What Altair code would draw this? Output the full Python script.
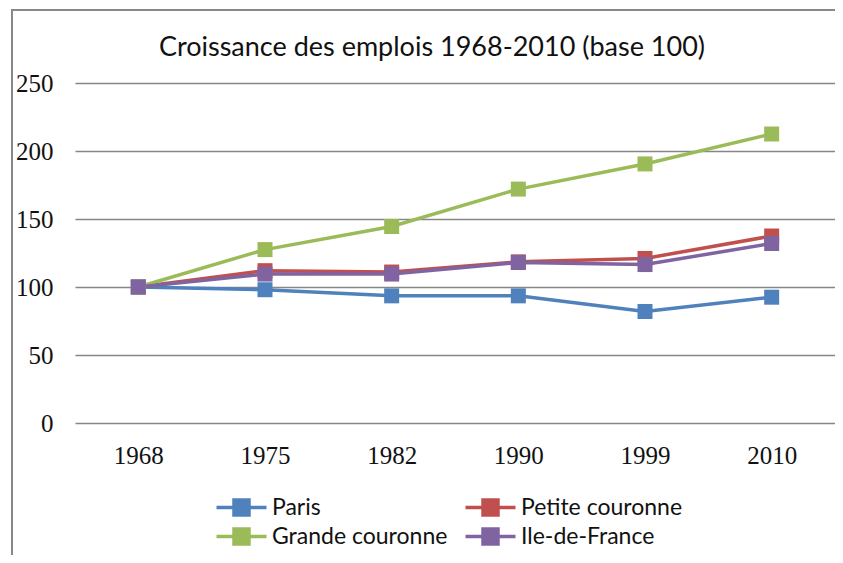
import altair as alt
import pandas as pd

years = ["1968", "1975", "1982", "1990", "1999", "2010"]
series = ["Paris", "Petite couronne", "Grande couronne", "Ile-de-France"]
paris = [100, 98, 93.5, 93.5, 82, 92.5]
petite = [100, 112, 111, 118.5, 121, 137.5]
grande = [100, 127.5, 144.5, 172, 190.5, 212.5]
idf = [100, 109.5, 109.5, 118, 116.5, 132]
colors = ["#4F81BD", "#C0504D", "#9BBB59", "#8064A2"]
y_ticks = [0, 50, 100, 150, 200, 250]

# legend fills column by column: Paris / Grande in column 1, Petite / IdF in column 2
legend_order = ["Paris", "Grande couronne", "Petite couronne", "Ile-de-France"]
legend_colors = [colors[series.index(s)] for s in legend_order]

rows = []
for name, vals in zip(series, [paris, petite, grande, idf]):
    for yr, v in zip(years, vals):
        rows.append({"year": yr, "value": v, "series": name, "ord": series.index(name)})
df = pd.DataFrame(rows)

SANS = "Lato"
SERIF = "Liberation Serif"

color_scale = alt.Scale(domain=legend_order, range=legend_colors)
x_enc = alt.X("year:N", sort=years, title=None,
              scale=alt.Scale(paddingInner=1, paddingOuter=0.5),
              axis=alt.Axis(labelAngle=0, ticks=False, domain=False, grid=False,
                            labelFontSize=25, labelPadding=20, labelFont=SERIF,
                            labelColor="#111"))
y_enc = alt.Y("value:Q", title=None, scale=alt.Scale(domain=[0, 250], nice=False),
              axis=alt.Axis(values=y_ticks, ticks=False, domain=False, gridColor="#868686",
                            gridWidth=1.3, labelFontSize=25, labelPadding=22, labelFont=SERIF,
                            labelColor="#111"))

symbol_path = "M-2,0H-0.6M0.6,0H2M-0.6,-0.6H0.6V0.6H-0.6Z"

lines = alt.Chart(df).mark_line(strokeWidth=3.5).encode(
    x=x_enc, y=y_enc,
    color=alt.Color("series:N", scale=color_scale, sort=legend_order,
                    legend=alt.Legend(title=None, orient="none", legendX=152, legendY=410,
                                      columns=2, columnPadding=10, rowPadding=0,
                                      symbolType=symbol_path, symbolSize=625,
                                      symbolStrokeWidth=3.5, labelLimit=0,
                                      labelFontSize=23, labelFont=SANS, labelColor="#111",
                                      labelOffset=16)),
    detail="series:N",
)
points = alt.Chart(df).mark_point(shape="square", filled=True, size=225, opacity=1).encode(
    x=alt.X("year:N", sort=years), y="value:Q",
    color=alt.Color("series:N", scale=color_scale, sort=legend_order, legend=None),
    order="ord:Q",
)

border = alt.Chart(df).mark_rect(fill=None, stroke="#888", strokeWidth=1.5, clip=False).encode(
    x=alt.value(-63), x2=alt.value(790), y=alt.value(-73), y2=alt.value(500)
)

chart = alt.layer(border, lines, points).properties(
    width=760, height=340,
    autosize=alt.AutoSizeParams(type="none"),
    padding={"left": 67, "top": 75, "right": 0, "bottom": 132},
    title=alt.TitleParams("Croissance des emplois 1968-2010 (base 100)", font=SANS,
                          fontSize=27, fontWeight="normal", color="#111",
                          anchor="middle", offset=0, dy=53, dx=-23),
).configure_view(stroke=None)

chart.save("out.html", embed_options={"renderer": "svg", "actions": False})
